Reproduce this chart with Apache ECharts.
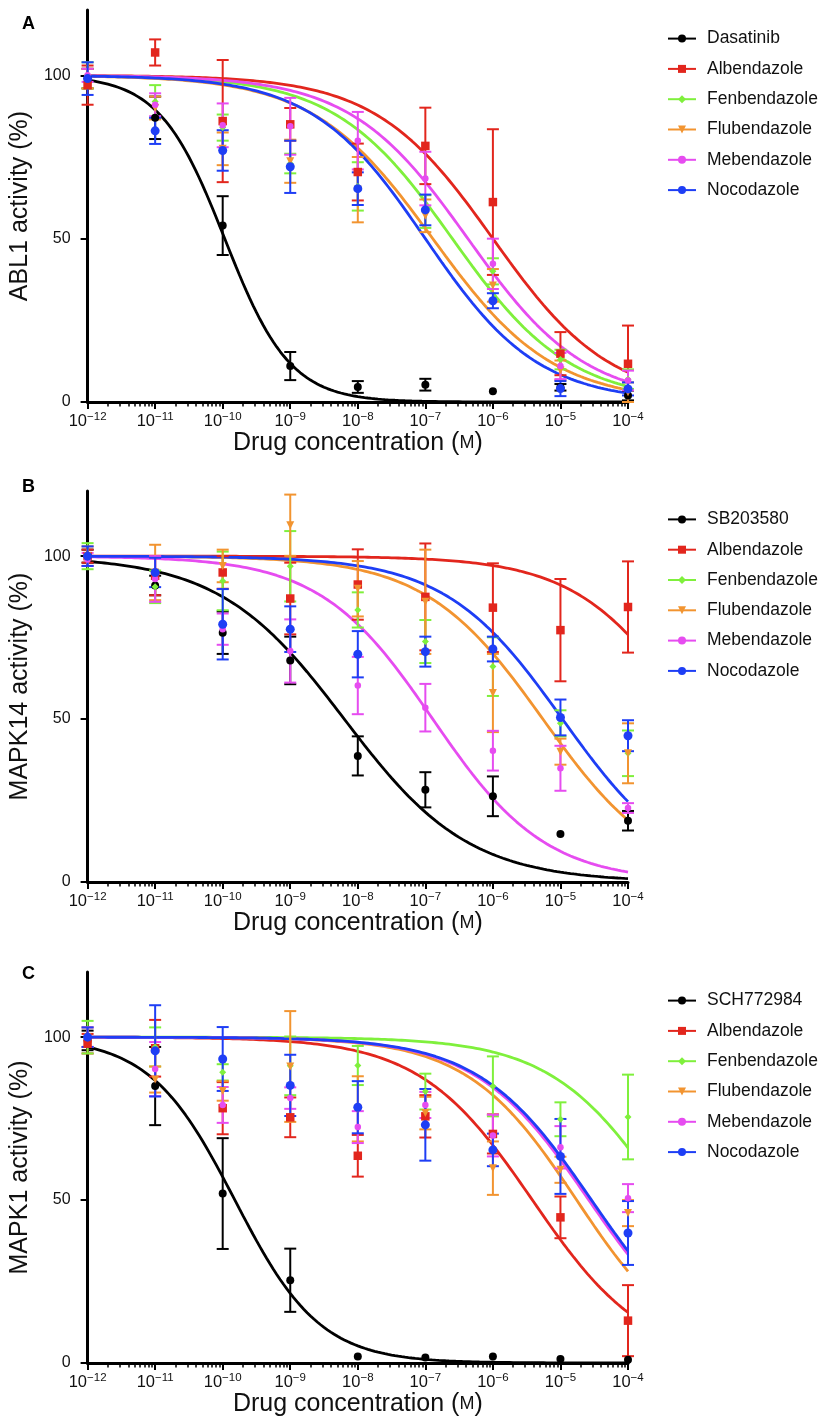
<!DOCTYPE html>
<html><head><meta charset="utf-8">
<script src="https://cdn.jsdelivr.net/npm/echarts@6/dist/echarts.min.js"></script>
<style>html,body{margin:0;padding:0;background:#fff}#chart{width:821px;height:1425px}</style>
</head><body><div id="chart"></div>
<script>
// ---------- data ----------
const concentrations = [1e-12, 1e-11, 1e-10, 1e-9, 1e-8, 1e-7, 1e-6, 1e-5, 1e-4];
const yTickValues = [0, 50, 100];
const panelLetters = ['A', 'B', 'C'];
const yAxisTitles = ['ABL1 activity (%)', 'MAPK14 activity (%)', 'MAPK1 activity (%)'];
const namesA = ['Dasatinib', 'Albendazole', 'Fenbendazole', 'Flubendazole', 'Mebendazole', 'Nocodazole'];
const namesB = ['SB203580', 'Albendazole', 'Fenbendazole', 'Flubendazole', 'Mebendazole', 'Nocodazole'];
const namesC = ['SCH772984', 'Albendazole', 'Fenbendazole', 'Flubendazole', 'Mebendazole', 'Nocodazole'];

// Panel A (ABL1)
const A_Dasatinib = [99, 87, 54, 11, 4.6, 5.3, 3.3, 4.5, 2];
const A_Dasatinib_err = [3, 6.5, 9, 4.3, 1.8, 1.8, 0, 1, 1.5];
const A_Albendazole = [97, 107, 86, 85, 70.4, 78.4, 61.2, 14.8, 11.7];
const A_Albendazole_err = [6, 4, 18.7, 5, 8.7, 11.7, 22.3, 6.6, 11.7];
const A_Fenbendazole = [100, 92, 84, 73, 66, 58.3, 40, 13, 7];
const A_Fenbendazole_err = [4, 5, 4, 3, 7.4, 5, 4, 3, 3];
const A_Flubendazole = [99, 90, 77.5, 73.7, 65, 57, 35.7, 9.7, 3];
const A_Flubendazole_err = [3, 3.5, 5, 6.6, 10, 5, 5, 3, 3];
const A_Mebendazole = [100, 91, 84.7, 84.4, 80, 68.4, 42.3, 11, 6.6];
const A_Mebendazole_err = [2, 3.5, 6.7, 8.7, 8.8, 8.2, 7.7, 4, 3];
const A_Nocodazole = [99, 83, 77, 72, 65.3, 58.8, 31, 4.1, 4];
const A_Nocodazole_err = [5, 4, 6.2, 8, 5, 4.7, 2.3, 2.3, 2];
const A_logIC50 = [-9.97, -6.0, -6.6, -6.89, -6.37, -7.0];
const A_hill = [0.9, 0.5, 0.5, 0.49, 0.5, 0.52];

// Panel B (MAPK14)
const B_SB203580 = [100, 91, 76.5, 68, 38.7, 28.3, 26.3, 14.7, 18.8];
const B_SB203580_err = [2, 3, 6.5, 7.3, 6, 5.4, 6.1, 0, 3];
const B_Albendazole = [100, 94, 95, 87, 91.3, 87.5, 84.2, 77.3, 84.4];
const B_Albendazole_err = [2, 6, 5, 11, 10.8, 16.4, 13.6, 15.7, 14];
const B_Fenbendazole = [100, 90.6, 92.4, 96.9, 83.5, 73.8, 66.1, 48.7, 39.5];
const B_Fenbendazole_err = [4, 5, 9, 10.8, 5.4, 6.6, 9, 4, 7];
const B_Flubendazole = [100, 95, 97, 109.5, 90, 86, 58, 40, 39.5];
const B_Flubendazole_err = [3, 8.5, 5, 9.4, 8.5, 16, 12, 4, 9.2];
const B_Mebendazole = [99, 93, 77.6, 70.9, 60.3, 53.5, 40.3, 34.9, 22.7];
const B_Mebendazole_err = [2, 7, 4.8, 9.7, 8.8, 7.3, 6.1, 6.9, 1.5];
const B_Nocodazole = [100, 95, 79.1, 77.6, 69.9, 70.7, 71.5, 50.5, 44.9];
const B_Nocodazole_err = [3, 4.5, 10.8, 7, 7.1, 4.6, 3.8, 5.5, 4.75];
const B_logIC50 = [-8.2, -3.03, null, -5.26, -6.89, -4.97];
const B_hill = [0.47, 0.514, null, 0.5, 0.52, 0.5];

// Panel C (MAPK1)
const C_SCH772984 = [99, 85, 52, 25.4, 2, 1.7, 2, 1.2, 1];
const C_SCH772984_err = [3, 12, 17, 9.7, 0, 0, 0, 0, 0];
const C_Albendazole = [98, 96.6, 78.2, 75.4, 63.6, 75.7, 70.3, 44.7, 13];
const C_Albendazole_err = [3, 8.7, 8, 6.1, 6.4, 6.5, 6, 6.4, 10.9];
const C_Fenbendazole = [100, 97, 89.2, 91.2, 91.3, 83.3, 84.9, 74.8, 75.5];
const C_Fenbendazole_err = [5, 6, 2.5, 9, 6, 5.5, 9.2, 5.2, 13];
const C_Flubendazole = [100, 87, 83.5, 91, 78, 76.7, 59.8, 59.3, 46];
const C_Flubendazole_err = [3, 4, 3, 17, 10, 5, 8.2, 4, 4];
const C_Mebendazole = [100, 90.2, 79.2, 81.3, 72.4, 79.2, 69.8, 66.2, 50.6];
const C_Mebendazole_err = [3, 8.3, 5.5, 3.3, 4.9, 4, 6.4, 6.5, 4.3];
const C_Nocodazole = [100, 95.8, 93.3, 85.2, 78.5, 73.1, 65.4, 63.4, 39.9];
const C_Nocodazole_err = [3, 14, 9.8, 9.4, 8, 11, 5, 11.5, 9.8];
const C_logIC50 = [-9.82, -5.415, -3.44, -4.76, -4.58, -4.54];
const C_hill = [0.69, 0.52, 0.516, 0.536, 0.52, 0.52];

const fitTop = 100, fitBottom = 0;

// ---------- styling ----------
const FONT = '"Liberation Sans", Arial, Helvetica, sans-serif';
const seriesColors = ['#000000', '#e2261d', '#7ff03c', '#f29430', '#e64cf0', '#1e3ef5'];
const markerSymbols = ['circle', 'rect', 'diamond', 'path://M0,0L10,0L5,9Z', 'circle', 'circle'];
const markerSizes = [8, 8.5, 7, 8, 6.5, 9];
const gridTops = [10, 491, 972];
const gridHeights = [392, 391, 391];
const legendTops = [28.6, 509.4, 990.6];
const letterTops = [15, 478, 965];

const panels = [
  { names: namesA, means: [A_Dasatinib, A_Albendazole, A_Fenbendazole, A_Flubendazole, A_Mebendazole, A_Nocodazole],
    errs: [A_Dasatinib_err, A_Albendazole_err, A_Fenbendazole_err, A_Flubendazole_err, A_Mebendazole_err, A_Nocodazole_err],
    ic50: A_logIC50, hill: A_hill },
  { names: namesB, means: [B_SB203580, B_Albendazole, B_Fenbendazole, B_Flubendazole, B_Mebendazole, B_Nocodazole],
    errs: [B_SB203580_err, B_Albendazole_err, B_Fenbendazole_err, B_Flubendazole_err, B_Mebendazole_err, B_Nocodazole_err],
    ic50: B_logIC50, hill: B_hill },
  { names: namesC, means: [C_SCH772984, C_Albendazole, C_Fenbendazole, C_Flubendazole, C_Mebendazole, C_Nocodazole],
    errs: [C_SCH772984_err, C_Albendazole_err, C_Fenbendazole_err, C_Flubendazole_err, C_Mebendazole_err, C_Nocodazole_err],
    ic50: C_logIC50, hill: C_hill }
];

// fitted dose-response curve (4PL with fixed top/bottom, parameters)
function fitCurve(logIC50, hill) {
  const pts = [];
  for (let k = 0; k <= 160; k++) {
    const lx = -12 + k * 0.05;
    pts.push([Math.pow(10, lx), fitBottom + (fitTop - fitBottom) / (1 + Math.pow(10, hill * (lx - logIC50)))]);
  }
  return pts;
}

const minorTickValues = [];
for (let e = -12; e < -4; e++) for (let d = 2; d <= 9; d++) minorTickValues.push(d * Math.pow(10, e));

const grids = [], xAxes = [], yAxes = [], legends = [], graphics = [];
const lineSeries = [], errSeries = [], pointSeries = [];

panels.forEach((p, pi) => {
  grids.push({ left: 86, width: 542, top: gridTops[pi], height: gridHeights[pi] });
  xAxes.push({
    type: 'log', logBase: 10, gridIndex: pi, min: 1e-12, max: 1e-4, position: 'bottom',
    axisLine: { onZero: false, lineStyle: { color: '#000', width: 3 } },
    axisTick: { length: 7, lineStyle: { color: '#000', width: 2 } },
    splitLine: { show: false },
    axisLabel: {
      margin: 9,
      formatter: v => { const e = Math.round(Math.log10(v)); return '{b|10}{s|' + (e < 0 ? '\u2212' : '') + Math.abs(e) + '}'; },
      rich: {
        b: { fontSize: 16.5, color: '#111', fontFamily: FONT },
        s: { fontSize: 11.5, color: '#111', fontFamily: FONT, padding: [0, 0, 9, 0] }
      }
    },
    name: 'Drug concentration ({sc|M})', nameLocation: 'middle', nameGap: 26,
    nameTextStyle: { fontSize: 25, color: '#111', fontFamily: FONT,
      rich: { sc: { fontSize: 18, color: '#111', fontFamily: FONT } } }
  });
  yAxes.push({
    type: 'value', gridIndex: pi, min: 0, max: 120,
    axisLine: { show: true, onZero: false, lineStyle: { color: '#000', width: 3 } },
    axisTick: { show: true, length: 7, customValues: yTickValues, lineStyle: { color: '#000', width: 2 } },
    axisLabel: { customValues: yTickValues, margin: 17, fontSize: 16, color: '#111', fontFamily: FONT },
    splitLine: { show: false },
    name: yAxisTitles[pi], nameLocation: 'middle', nameGap: 53,
    nameTextStyle: { fontSize: 25, color: '#111', fontFamily: FONT }
  });
  legends.push({
    data: p.names, orient: 'vertical', left: 667, top: legendTops[pi], padding: 0,
    itemWidth: 28, itemHeight: 10, itemGap: 10.3, selectedMode: false,
    textStyle: { fontSize: 17.5, lineHeight: 20, color: '#111', fontFamily: FONT, padding: [0, 0, 0, 6] }
  });
  graphics.push({ type: 'text', left: 22, top: letterTops[pi],
    style: { text: panelLetters[pi], font: 'bold 18px ' + FONT, fill: '#000' } });

  p.names.forEach((name, di) => {
    const color = seriesColors[di];
    if (p.ic50[di] !== null) {
      lineSeries.push({
        type: 'line', name, xAxisIndex: pi, yAxisIndex: pi, data: fitCurve(p.ic50[di], p.hill[di]),
        showSymbol: false, symbol: markerSymbols[di], symbolSize: markerSizes[di],
        lineStyle: { color, width: 2.8 }, itemStyle: { color }, silent: true, z: 2, animation: false
      });
    }
    const mean = p.means[di], err = p.errs[di];
    errSeries.push({
      type: 'custom', name, xAxisIndex: pi, yAxisIndex: pi, z: 3, silent: true,
      data: concentrations.map((c, i) => [c, mean[i] - err[i], mean[i] + err[i]]),
      encode: { x: 0, y: [1, 2] },
      renderItem: (params, api) => {
        if (api.value(2) - api.value(1) <= 0) return null;
        const lo = api.coord([api.value(0), api.value(1)]);
        const hi = api.coord([api.value(0), api.value(2)]);
        const h = 6, st = { stroke: color, lineWidth: 2 };
        return { type: 'group', children: [
          { type: 'line', shape: { x1: lo[0], y1: lo[1], x2: hi[0], y2: hi[1] }, style: st },
          { type: 'line', shape: { x1: hi[0] - h, y1: hi[1], x2: hi[0] + h, y2: hi[1] }, style: st },
          { type: 'line', shape: { x1: lo[0] - h, y1: lo[1], x2: lo[0] + h, y2: lo[1] }, style: st }
        ] };
      }
    });
    pointSeries.push({
      type: 'scatter', name, xAxisIndex: pi, yAxisIndex: pi, z: 4, silent: true,
      data: concentrations.map((c, i) => [c, mean[i]]),
      symbol: markerSymbols[di], symbolSize: markerSizes[di], itemStyle: { color, opacity: 1 }
    });
  });
});

// minor log ticks
panels.forEach((p, pi) => {
  xAxes.push({
    type: 'log', logBase: 10, gridIndex: pi, min: 1e-12, max: 1e-4, position: 'bottom',
    axisLine: { show: false, onZero: false }, axisLabel: { show: false }, splitLine: { show: false },
    axisTick: { show: true, length: 4.5, customValues: minorTickValues, lineStyle: { color: '#000', width: 1.5 } }
  });
});

const chart = echarts.init(document.getElementById('chart'), null, { renderer: 'canvas' });
chart.setOption({
  animation: false,
  backgroundColor: '#ffffff',
  textStyle: { fontFamily: FONT },
  grid: grids, xAxis: xAxes, yAxis: yAxes, legend: legends, graphic: graphics,
  series: [...lineSeries, ...errSeries, ...pointSeries]
});
</script></body></html>
